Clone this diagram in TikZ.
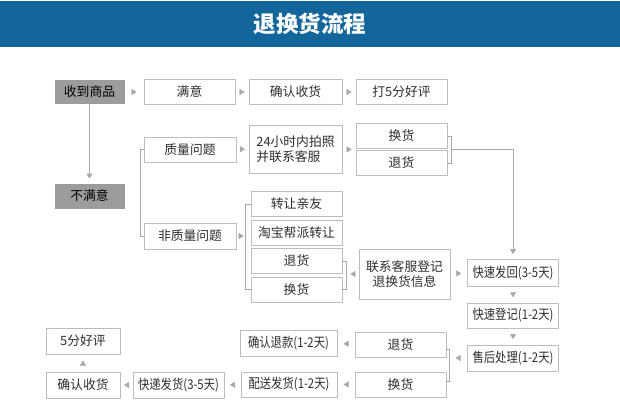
\documentclass[tikz,border=0pt]{standalone}
\usepackage{fontspec}
\setmainfont{Noto Sans CJK SC}
\newfontfamily\narrowcjk{Noto Sans CJK SC}[FakeStretch=0.84]
\usepackage{xcolor}
\usetikzlibrary{arrows.meta, calc, decorations.markings}

\definecolor{titleblue}{HTML}{13669B}
\definecolor{boxgray}{HTML}{BDBDBD}
\definecolor{linegray}{HTML}{A8A8A8}
\definecolor{darkfill}{HTML}{9C9C9C}
\definecolor{txtgray}{HTML}{2E2E2E}

\newcommand{\boxfont}{\fontsize{12.8}{15.5}\selectfont}
\newcommand{\daysfont}{\narrowcjk\fontsize{13.5}{15}\selectfont}

\begin{document}
\begin{tikzpicture}[x=1pt, y=-1pt,
    box/.style={rectangle, draw=boxgray, line width=0.8pt, fill=white, minimum width=91pt, minimum height=25pt, inner sep=1pt, align=center, font=\boxfont, text=txtgray},
    darkbox/.style={box, fill=darkfill, draw=darkfill, minimum width=69pt, minimum height=23pt, text=black},
    daybox/.style={box, font=\daysfont},
    line/.style={draw=linegray, line width=1pt},
    arr/.style={line, -{Triangle[length=5pt, width=6pt]}, shorten >=5pt},
    tri/.style={color=linegray, postaction={decorate}, decoration={markings, mark=at position 0.5 with {\arrow[xshift=2.5pt]{Triangle[length=5pt, width=6pt]}}}}
]
\useasboundingbox[fill=white] (0,0) rectangle (620,402);

% title bar
\node[fill=titleblue, minimum width=620pt, minimum height=46pt, inner sep=0pt, text=white, font=\fontsize{22.5}{24}\selectfont\bfseries] (title) at (310,24) {退换货流程};

% first rows
\node[darkbox] (recv) at (89.5,92) {收到商品};
\node[box] (sat)  at (189.5,92) {满意};
\node[box, minimum width=93pt] (ok1) at (295.5,92) {确认收货};
\node[box] (rate) at (401.5,92) {打5分好评};

\node[box, minimum width=92pt] (quality) at (190,149.5) {质量问题};
\node[box, minimum width=93pt, minimum height=48pt, align=left] (photo) at (295.5,149) {24小时内拍照\\并联系客服};
\node[box] (exch1) at (401.5,136) {换货};
\node[box] (ret1)  at (401.5,163) {退货};

\node[darkbox, minimum height=24pt] (unsat) at (89.5,196) {不满意};
\node[box, minimum width=92pt, minimum height=26pt] (nonq) at (190,236) {非质量问题};
\node[box] (friend) at (296.5,204)   {转让亲友};
\node[box] (taobao) at (296.5,232.5) {淘宝帮派转让};
\node[box] (ret2)   at (296.5,261)   {退货};
\node[box] (exch2)  at (296.5,289.5) {换货};
\node[box, minimum height=50pt] (contact) at (404.5,274) {联系客服登记\\退换货信息};

% right column
\node[daybox, minimum height=27pt] (back) at (513,273)   {快速发回(3-5天)};
\node[daybox] (reg)   at (513,315.5) {快速登记(1-2天)};
\node[daybox, minimum height=26pt] (after) at (513,358) {售后处理(1-2天)};

% bottom rows
\node[box] (ret3)  at (400.5,344.5) {退货};
\node[box] (exch3) at (400.5,384.5) {换货};
\node[daybox, minimum width=97pt, minimum height=26pt] (refund) at (288.5,343) {确认退款(1-2天)};
\node[daybox, minimum width=96pt] (deliver) at (289,384.5) {配送发货(1-2天)};
\node[daybox, minimum height=26pt] (express) at (178.5,385) {快递发货(3-5天)};
\node[box, minimum width=74pt, minimum height=26pt] (ok2)   at (83,385) {确认收货};
\node[box, minimum width=74pt, minimum height=26pt] (good5) at (83,341) {5分好评};

% bracket points
\coordinate (qb)  at (356,149.5);
\coordinate (ob)  at (451,149.5);
\coordinate (nqb) at (246,236);
\coordinate (rb)  at (347,274);
\coordinate (ab)  at (449,358);

% brackets and lines
\draw[arr] (recv) -- (unsat);
\draw[line] (quality.west) -- ++(-3,0) |- (nonq.west);
\draw[line] (friend.west) -- ++(-5,0) |- (exch2.west);
\draw[line] (exch1.east) -- ++(4,0) |- (ret1.east);
\draw[arr] (ob) -| (back.north);
\draw[line] (ret2.east) -- ++(4,0) |- (exch2.east);
\draw[line] ($(ret3.east)+(0,5)$) -- ++(3,0) |- ($(exch3.east)+(0,-3.5)$);

% small triangles
\path[tri] (recv) -- (sat);
\path[tri] (sat) -- (ok1);
\path[tri] (ok1) -- (rate);
\path[tri] (quality) -- (photo);
\path[tri] (photo) -- (qb);
\path[tri] (nonq) -- (nqb);
\path[tri] (contact) -- (rb);
\path[tri] (contact) -- (back);
\path[tri] (back) -- (reg);
\path[tri] (reg) -- (after);
\path[tri] (after) -- (ab);
\path[tri] (ret3) -- (refund);
\path[tri] (exch3) -- (deliver);
\path[tri] (deliver) -- (express);
\path[tri] (express) -- (ok2);
\path[tri] (ok2) -- (good5);
\end{tikzpicture}
\end{document}
